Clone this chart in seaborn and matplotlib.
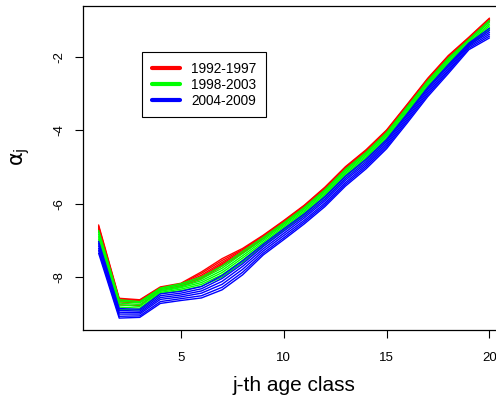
import numpy as np
import pandas as pd

import matplotlib
matplotlib.use("Agg")
import matplotlib.pyplot as plt
from matplotlib.lines import Line2D
import seaborn as sns


# age classes 1..20
age = list(range(1, 21))

periods = ["1992-1997", "1998-2003", "2004-2009"]
period_colors = ["#FF0000", "#00FF00", "#0000FF"]

# estimated alpha_j per year
y1992 = [-6.58, -8.58, -8.62, -8.27, -8.17, -7.86, -7.50, -7.22, -6.86, -6.46, -6.04, -5.55, -4.99, -4.53, -3.99, -3.29, -2.58, -1.96, -1.46, -0.94]
y1993 = [-6.62, -8.60, -8.64, -8.29, -8.19, -7.90, -7.55, -7.25, -6.88, -6.48, -6.06, -5.57, -5.01, -4.55, -4.01, -3.31, -2.60, -1.98, -1.48, -0.96]
y1994 = [-6.65, -8.63, -8.66, -8.31, -8.21, -7.95, -7.60, -7.28, -6.90, -6.50, -6.08, -5.59, -5.03, -4.57, -4.03, -3.33, -2.62, -2.00, -1.49, -0.97]
y1995 = [-6.68, -8.66, -8.68, -8.33, -8.23, -7.99, -7.64, -7.31, -6.92, -6.52, -6.09, -5.61, -5.05, -4.59, -4.05, -3.35, -2.64, -2.02, -1.51, -0.99]
y1996 = [-6.70, -8.68, -8.70, -8.34, -8.25, -8.02, -7.67, -7.33, -6.94, -6.54, -6.11, -5.63, -5.07, -4.61, -4.07, -3.37, -2.66, -2.04, -1.53, -1.01]
y1997 = [-6.72, -8.76, -8.78, -8.36, -8.26, -8.05, -7.70, -7.35, -6.95, -6.55, -6.12, -5.64, -5.08, -4.62, -4.08, -3.38, -2.67, -2.05, -1.54, -1.02]

y1998 = [-6.73, -8.62, -8.67, -8.30, -8.18, -8.00, -7.70, -7.30, -6.92, -6.52, -6.10, -5.62, -5.06, -4.60, -4.06, -3.36, -2.65, -2.03, -1.52, -1.00]
y1999 = [-6.78, -8.66, -8.70, -8.33, -8.22, -8.05, -7.76, -7.36, -6.97, -6.56, -6.14, -5.66, -5.10, -4.64, -4.10, -3.40, -2.69, -2.07, -1.55, -1.05]
y2000 = [-6.84, -8.71, -8.75, -8.36, -8.26, -8.10, -7.82, -7.42, -7.01, -6.60, -6.18, -5.70, -5.14, -4.68, -4.14, -3.44, -2.73, -2.11, -1.59, -1.10]
y2001 = [-6.90, -8.76, -8.80, -8.39, -8.29, -8.15, -7.88, -7.48, -7.06, -6.64, -6.22, -5.74, -5.18, -4.72, -4.18, -3.48, -2.77, -2.14, -1.62, -1.15]
y2002 = [-6.96, -8.82, -8.85, -8.42, -8.33, -8.20, -7.94, -7.54, -7.10, -6.68, -6.26, -5.78, -5.22, -4.76, -4.22, -3.52, -2.81, -2.18, -1.66, -1.20]
y2003 = [-7.02, -8.88, -8.90, -8.45, -8.37, -8.25, -8.00, -7.60, -7.15, -6.72, -6.30, -5.82, -5.26, -4.80, -4.26, -3.56, -2.84, -2.22, -1.70, -1.25]

y2004 = [-7.03, -8.86, -8.88, -8.46, -8.39, -8.26, -7.96, -7.56, -7.11, -6.69, -6.28, -5.81, -5.25, -4.79, -4.25, -3.55, -2.83, -2.21, -1.62, -1.22]
y2005 = [-7.09, -8.91, -8.93, -8.51, -8.44, -8.32, -8.04, -7.64, -7.17, -6.75, -6.34, -5.87, -5.31, -4.85, -4.30, -3.60, -2.88, -2.26, -1.65, -1.28]
y2006 = [-7.15, -8.96, -8.97, -8.56, -8.49, -8.38, -8.12, -7.71, -7.23, -6.81, -6.39, -5.92, -5.36, -4.90, -4.35, -3.65, -2.93, -2.31, -1.68, -1.33]
y2007 = [-7.22, -9.01, -9.01, -8.61, -8.54, -8.44, -8.20, -7.79, -7.29, -6.87, -6.45, -5.98, -5.42, -4.95, -4.40, -3.70, -2.98, -2.36, -1.72, -1.38]
y2008 = [-7.28, -9.07, -9.06, -8.67, -8.59, -8.51, -8.28, -7.87, -7.35, -6.93, -6.50, -6.03, -5.47, -5.00, -4.45, -3.75, -3.03, -2.40, -1.76, -1.43]
y2009 = [-7.35, -9.12, -9.10, -8.72, -8.64, -8.57, -8.35, -7.94, -7.40, -6.98, -6.55, -6.08, -5.52, -5.05, -4.50, -3.80, -3.08, -2.45, -1.80, -1.48]

years = {
    1992: y1992, 1993: y1993, 1994: y1994, 1995: y1995, 1996: y1996, 1997: y1997,
    1998: y1998, 1999: y1999, 2000: y2000, 2001: y2001, 2002: y2002, 2003: y2003,
    2004: y2004, 2005: y2005, 2006: y2006, 2007: y2007, 2008: y2008, 2009: y2009,
}

x_ticks = [5, 10, 15, 20]
y_ticks = [-8, -6, -4, -2]


def period_of(year):
    if year <= 1997:
        return periods[0]
    if year <= 2003:
        return periods[1]
    return periods[2]


rows = []
for yr, vals in years.items():
    for a, v in zip(age, vals):
        rows.append({"age": a, "alpha": v, "year": yr, "period": period_of(yr)})
df = pd.DataFrame(rows)


sns.set_style("ticks")
plt.rcParams["font.family"] = ["Liberation Sans", "DejaVu Sans"]
plt.rcParams["mathtext.fontset"] = "dejavusans"
plt.rcParams["text.color"] = "black"
plt.rcParams["axes.labelcolor"] = "black"
plt.rcParams["xtick.color"] = "black"
plt.rcParams["ytick.color"] = "black"


fig = plt.figure(figsize=(4.96, 4.03), dpi=100)
ax = fig.add_axes([0.1673, 0.1811, 0.851, 0.804])

palette = dict(zip(periods, period_colors))

sns.lineplot(
    data=df,
    x="age",
    y="alpha",
    hue="period",
    hue_order=periods,
    units="year",
    estimator=None,
    palette=palette,
    linewidth=1.0,
    legend=False,
    ax=ax,
)

ax.set_xlim(0.24, 20.76)
ax.set_ylim(-9.445, -0.609)

ax.set_xticks(x_ticks)
ax.set_yticks(y_ticks)
ax.set_xticklabels([str(t) for t in x_ticks])
ax.set_yticklabels([str(t) for t in y_ticks], rotation=90, va="center")

ax.tick_params(axis="both", direction="out", length=5.8, width=0.8,
               color="black", labelsize=9.5, labelcolor="black")
ax.tick_params(axis="x", pad=10)
ax.tick_params(axis="y", pad=7)

for s in ax.spines.values():
    s.set_visible(True)
    s.set_color("black")
    s.set_linewidth(0.9)

ax.set_xlabel("j-th age class", fontsize=15)
ax.xaxis.label.set_va("center")
ax.xaxis.set_label_coords(0.5, -0.17)

ax.set_ylabel(r"$\mathrm{\alpha_j}$", fontsize=15)
ax.yaxis.label.set_va("center")
ax.yaxis.set_label_coords(-0.147, 0.534)


# legend
handles = [Line2D([0], [0], color=c, lw=3) for c in period_colors]
leg = ax.legend(
    handles,
    periods,
    loc="upper left",
    bbox_to_anchor=(0.1398, 0.858),
    borderaxespad=0,
    fontsize=9.8,
    frameon=True,
    fancybox=False,
    shadow=False,
    handlelength=2.1,
    handletextpad=0.8,
    borderpad=0.7,
    labelspacing=0.15,
)
leg.get_frame().set_edgecolor("black")
leg.get_frame().set_linewidth(0.8)
leg.get_frame().set_alpha(1)


fig.savefig("out.png", dpi=100)
plt.close(fig)
